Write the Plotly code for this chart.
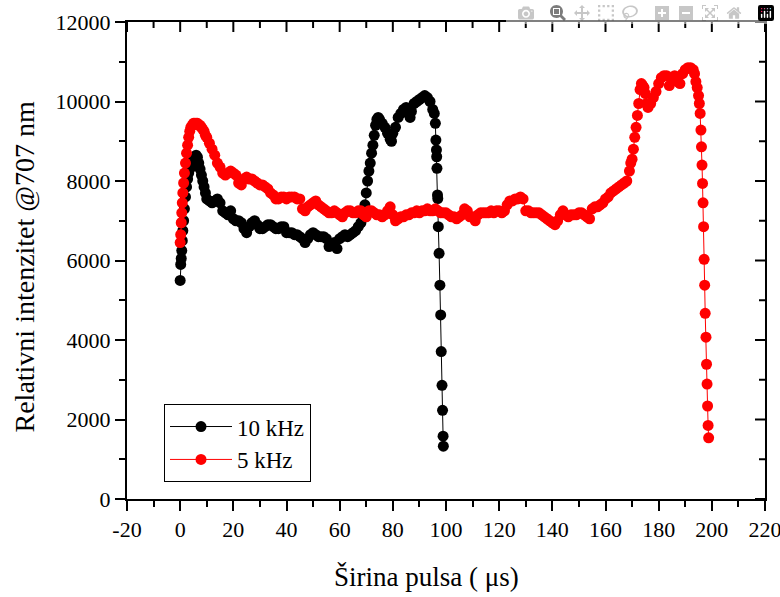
import plotly.graph_objects as go

# ---- data: 10 kHz ----
x_10khz = [0.0, 0.2, 0.4, 0.6, 0.8, 1.0, 1.3, 1.6, 2.0, 2.4, 2.8, 3.2, 3.6, 4.0, 4.5, 5.0, 5.5, 6.0, 6.5, 7.0,
           7.5, 8.0, 8.5, 9.0, 9.5, 10, 11, 12, 13, 14, 15, 16, 17, 18, 19, 20, 21, 22, 23, 24,
           25, 26, 27, 28, 29, 30, 31, 32, 33, 34, 35, 36, 37, 38, 39, 40, 41, 42, 43, 44,
           45, 46, 47, 48, 49, 50, 51, 52, 53, 54, 55, 56, 57, 58, 59, 60, 61, 62, 63, 64,
           65, 66, 67, 68, 69, 69.5, 70, 70.5, 71, 71.5, 72, 72.5, 73, 73.5, 74, 74.5, 75, 76, 77, 78,
           79, 79.5, 80, 81, 82, 83, 84, 85, 86, 86.5, 87, 88, 89, 90, 91, 92, 93, 94, 95, 95.6,
           96.0, 96.2, 96.4, 96.5, 96.6, 96.8, 96.9, 97.1, 97.4, 97.7, 98.0, 98.2, 98.5, 98.7, 98.9, 99.0]
y_10khz = [5500, 5900, 6050, 6250, 6500, 6750, 7000, 7300, 7600, 7850, 8050, 8200, 8300, 8350, 8450, 8550, 8600, 8650, 8600, 8450,
           8300, 8150, 8000, 7850, 7700, 7550, 7500, 7450, 7500, 7550, 7450, 7250, 7200, 7150, 7250, 7050, 7000, 7000, 6950, 6800,
           6700, 6850, 6950, 7000, 6900, 6800, 6800, 6850, 6900, 6900, 6850, 6800, 6800, 6850, 6850, 6700, 6700, 6700, 6650, 6650,
           6600, 6550, 6450, 6550, 6650, 6700, 6650, 6600, 6600, 6600, 6550, 6350, 6400, 6450, 6300, 6550, 6600, 6650, 6600, 6650,
           6700, 6750, 6850, 6950, 7100, 7400, 7700, 8000, 8250, 8450, 8700, 8900, 9150, 9400, 9550, 9600, 9550, 9450, 9350, 9200,
           9050, 9000, 9200, 9350, 9600, 9700, 9800, 9850, 9700, 9600, 9750, 9950, 10000, 10050, 10100, 10150, 10100, 10000, 9800, 9700,
           9450, 9030, 8780, 8610, 8320, 7650, 7560, 6850, 6180, 5380, 4630, 3710, 2860, 2230, 1580, 1330]

# ---- data: 5 kHz ----
x_5khz = [0.0, 0.2, 0.4, 0.6, 0.8, 1.0, 1.3, 1.6, 2.0, 2.4, 2.8, 3.2, 3.6, 4.0, 4.5, 5.0, 5.5, 6.0, 6.5, 7.0,
          7.5, 8.0, 8.5, 9.0, 9.5, 10, 11, 12, 13, 14, 15, 16, 17, 18, 19, 20, 21, 22, 23, 24,
          25, 26, 27, 28, 29, 30, 31, 32, 33, 34, 35, 36, 37, 38, 39, 40, 41, 42, 43, 44,
          45, 46, 47, 48, 49, 50, 51, 52, 53, 54, 55, 56, 57, 58, 59, 60, 61, 62, 63, 64,
          65, 66, 67, 68, 69, 70, 71, 72, 73, 74, 75, 76, 77, 78, 79, 80, 81, 82, 83, 84,
          85, 86, 87, 88, 89, 90, 91, 92, 93, 94, 95, 96, 97, 98, 99, 100, 101, 102, 103, 104,
          105, 106, 107, 108, 109, 110, 111, 112, 113, 114, 115, 116, 117, 118, 119, 120, 121, 122, 123, 124,
          125, 126, 127, 128, 129, 130, 131, 132, 133, 134, 135, 136, 137, 138, 139, 140, 141, 142, 143, 144,
          145, 146, 147, 148, 149, 150, 151, 152, 153, 154, 155, 156, 157, 158, 159, 160, 161, 162, 163, 164,
          165, 166, 167, 168, 169, 169.5, 170, 170.5, 171, 171.5, 172, 172.5, 173, 173.5, 174, 174.5, 175, 175.5, 176, 177,
          178, 179, 180, 181, 182, 183, 184, 185, 186, 187, 188, 189, 190, 191, 192, 193, 193.5, 194, 194.5, 195,
          195.3, 195.6, 195.9, 196.1, 196.3, 196.5, 196.7, 196.9, 197.1, 197.3, 197.5, 197.8, 198.0, 198.2, 198.4, 198.6, 198.8]
y_5khz = [6450, 6650, 6950, 7200, 7450, 7700, 7950, 8200, 8450, 8700, 8900, 9100, 9250, 9350, 9400, 9450, 9450, 9450, 9450, 9400,
          9400, 9350, 9300, 9250, 9150, 9100, 8950, 8800, 8650, 8450, 8350, 8200, 8150, 8200, 8250, 8200, 8150, 7950, 7900, 8050,
          8100, 8050, 8050, 8000, 7950, 7900, 7900, 7850, 7800, 7700, 7650, 7550, 7550, 7600, 7600, 7550, 7600, 7600, 7600, 7550,
          7550, 7300, 7250, 7350, 7400, 7450, 7500, 7400, 7350, 7300, 7250, 7200, 7200, 7250, 7200, 7150, 7100, 7200, 7250, 7250,
          7200, 7200, 7250, 7250, 7150, 7100, 7250, 7250, 7200, 7150, 7150, 7100, 7150, 7250, 7350, 7150, 7000, 7050, 7100, 7100,
          7150, 7150, 7200, 7200, 7250, 7200, 7250, 7250, 7300, 7250, 7250, 7300, 7250, 7200, 7200, 7200, 7150, 7100, 7100, 7050,
          7100, 7150, 7300, 7250, 7100, 7100, 7000, 7150, 7200, 7200, 7200, 7200, 7250, 7200, 7250, 7250, 7200, 7250, 7400, 7500,
          7500, 7550, 7550, 7600, 7550, 7250, 7250, 7200, 7200, 7200, 7200, 7150, 7100, 7050, 7000, 6950, 6900, 7000, 7150, 7250,
          7150, 7100, 7150, 7150, 7150, 7200, 7200, 7150, 7100, 7050, 7300, 7350, 7350, 7400, 7450, 7550, 7600, 7700, 7750, 7800,
          7850, 7900, 7950, 8000, 8250, 8450, 8550, 8800, 9100, 9350, 9650, 9950, 10300, 10450, 10400, 10350, 10200, 9950, 9850, 9950,
          10100, 10250, 10450, 10600, 10650, 10650, 10400, 10600, 10650, 10500, 10450, 10700, 10800, 10850, 10850, 10800, 10700, 10500, 10350, 10150,
          9950, 9700, 9280, 8860, 8400, 7940, 7450, 6850, 6030, 5380, 4670, 4070, 3390, 2890, 2340, 1850, 1540]

# ---- axis ticks ----
x_tickvals = [-20, 0, 20, 40, 60, 80, 100, 120, 140, 160, 180, 200, 220]
x_ticktext = ["-20", "0", "20", "40", "60", "80", "100", "120", "140", "160", "180", "200", "220"]
y_tickvals = [0, 2000, 4000, 6000, 8000, 10000, 12000]
y_ticktext = ["0", "2000", "4000", "6000", "8000", "10000", "12000"]

FONT = "Liberation Serif"

fig = go.Figure()
fig.add_trace(go.Scatter(x=x_10khz, y=y_10khz, mode="lines+markers", name="10 kHz",
                         line=dict(color="black", width=1),
                         marker=dict(color="black", size=11)))
fig.add_trace(go.Scatter(x=x_5khz, y=y_5khz, mode="lines+markers", name="5 kHz",
                         line=dict(color="red", width=1),
                         marker=dict(color="red", size=11)))

# inward ticks on the top and right frame (positions taken from the tick arrays)
x_minor = [v + 10 for v in x_tickvals[:-1]]
y_minor = [v + 1000 for v in y_tickvals[:-1]]
tick_line = dict(color="black", width=2)
for v, ln in [(v, 10) for v in y_tickvals] + [(v, 6) for v in y_minor]:
    fig.add_shape(type="line", xref="paper", yref="y", xsizemode="pixel", xanchor=1,
                  x0=-ln, x1=0, y0=v, y1=v, line=tick_line, layer="above")
for v, ln in [(v, 10) for v in x_tickvals] + [(v, 6) for v in x_minor]:
    fig.add_shape(type="line", xref="x", yref="paper", ysizemode="pixel", yanchor=1,
                  y0=-ln, y1=0, x0=v, x1=v, line=tick_line, layer="above")

axis_common = dict(showgrid=False, zeroline=False, showline=True, linecolor="black",
                   linewidth=2, automargin=False, mirror=True)

fig.update_layout(
    width=780, height=597,
    margin=dict(l=127, r=15, t=22, b=98, pad=0),
    paper_bgcolor="white", plot_bgcolor="white",
    font=dict(family=FONT, color="black", size=22),
    showlegend=True,
    legend=dict(x=0.058, y=0.199, xanchor="left", yanchor="top",
                bordercolor="black", borderwidth=1, bgcolor="white",
                font=dict(family=FONT, size=23), tracegroupgap=0, itemwidth=62),
    xaxis=dict(range=[-20, 220], tickvals=x_tickvals, ticktext=x_ticktext,
               ticks="outside", ticklen=10, tickwidth=2, tickcolor="black",
               minor=dict(ticks="outside", ticklen=6, tickwidth=2, tickcolor="black", dtick=10, tick0=0),
               tickfont=dict(family=FONT, size=22), ticklabeloverflow="allow",
               **axis_common),
    yaxis=dict(range=[0, 12000], tickvals=y_tickvals, ticktext=y_ticktext,
               ticks="outside", ticklen=10, tickwidth=2, tickcolor="black",
               minor=dict(ticks="outside", ticklen=6, tickwidth=2, tickcolor="black", dtick=1000, tick0=0),
               tickfont=dict(family=FONT, size=22), ticklabeloverflow="allow",
               **axis_common),
    annotations=[
        dict(text="Širina pulsa ( μs)", xref="paper", yref="paper", x=0.47, y=-0.163,
             xanchor="center", yanchor="middle", showarrow=False,
             font=dict(family=FONT, size=27, color="black")),
        dict(text="Relativni intenzitet @707 nm", xref="paper", yref="paper", x=-0.161, y=0.488,
             xanchor="center", yanchor="middle", textangle=-90, showarrow=False,
             font=dict(family=FONT, size=28, color="black")),
    ],
)

fig.write_html("out.html",
               post_script="document.body.style.margin='0px';document.body.style.overflow='hidden';")
